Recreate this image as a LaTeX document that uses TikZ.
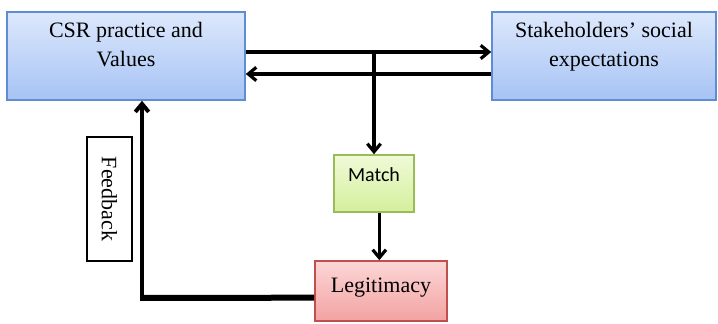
\documentclass[tikz,border=0pt]{standalone}
\usepackage{fontspec}
\setmainfont{Liberation Serif}
\newfontfamily\calibrifont{Carlito}
\usetikzlibrary{arrows.meta}

\definecolor{csrtop}{HTML}{DDE8FC}
\definecolor{csrbot}{HTML}{A6C3F4}
\definecolor{csrline}{HTML}{5E8DD3}
\definecolor{matchtop}{HTML}{F0FAD8}
\definecolor{matchbot}{HTML}{D3EF9C}
\definecolor{matchline}{HTML}{9BBB59}
\definecolor{legtop}{HTML}{FCD6D6}
\definecolor{legbot}{HTML}{F3A2A2}
\definecolor{legline}{HTML}{C0504D}

\tikzset{
  every picture/.style={line width=0.75pt},
  bluebox/.style={draw=csrline, line width=1.2pt, top color=csrtop, bottom color=csrbot, inner sep=0pt},
  greenbox/.style={draw=matchline, line width=1.2pt, top color=matchtop, bottom color=matchbot, inner sep=0pt},
  redbox/.style={draw=legline, line width=1.2pt, top color=legtop, bottom color=legbot, inner sep=0pt},
  txt/.style={inner sep=0pt, align=center, font=\fontsize{16.5}{21.5}\selectfont},
  arr/.style={line width=2.4pt, -{Straight Barb[length=6pt,width=10pt]}},
}

\begin{document}
\begin{tikzpicture}[x=0.75pt,y=0.75pt,yscale=-1,xscale=1]
\useasboundingbox (0,0) rectangle (718,324);

%Shape: Rectangle (CSR)
\node [bluebox, minimum width=178.5pt, minimum height=66pt] (csr) at (126,56) {};
%darker strip on the bottom edge
\draw [line width=2pt, color=csrline] (119,100) -- (166,100);
%Shape: Rectangle (stakeholders)
\node [bluebox, minimum width=168pt, minimum height=66pt] (stake) at (604,56) {};
%Shape: Rectangle (match)
\node [greenbox, minimum width=60pt, minimum height=42.75pt] (match) at (374,183.5) {};
%Shape: Rectangle (legitimacy)
\node [redbox, minimum width=99pt, minimum height=45pt] (legit) at (381,291) {};
%Shape: Rectangle (feedback label)
\node [draw, line width=0.9pt, fill=white, rotate=-90, minimum width=93pt, minimum height=33.75pt, inner sep=0pt, font=\fontsize{16.5}{20}\selectfont] (fb) at (109.5,199) {Feedback};

% Text Node (yscale=-1, so a positive yshift moves down)
\node [txt, anchor=north] (csrtxt) at ([yshift=8pt]csr.north) {CSR practice and\\Values};
% Text Node
\node [txt, anchor=north] (staketxt) at ([yshift=8pt]stake.north) {Stakeholders’ social\\expectations};
% Text Node
\node [inner sep=0pt, anchor=north, font=\calibrifont\fontsize{15}{18}\selectfont] (matchtxt) at ([yshift=10pt]match.north) {Match};
% Text Node
\node [txt, anchor=north] (legittxt) at ([yshift=13pt]legit.north) {Legitimacy};

%Straight Lines
\coordinate (toparr) at ([yshift=-3pt]csr.east);
\coordinate (botarr) at ([yshift=13.5pt]stake.west);
\draw [arr] (toparr) -- (toparr -| stake.west);
\draw [arr] (botarr) -- (botarr -| csr.east);
\draw [arr] (toparr -| match.north) -- (match.north);
\draw [arr] ([xshift=4pt]match.south) -- ([xshift=4pt]match.south |- legit.north);

%Feedback loop
\coordinate (fbx) at (142,298);
\draw [line width=4.5pt] ([yshift=5pt]legit.west) -- (fbx);
\draw [line width=3pt, -{Straight Barb[length=6pt,width=10pt]}] ([yshift=2.2pt]fbx) -- (fbx |- csr.south);

\end{tikzpicture}
\end{document}
